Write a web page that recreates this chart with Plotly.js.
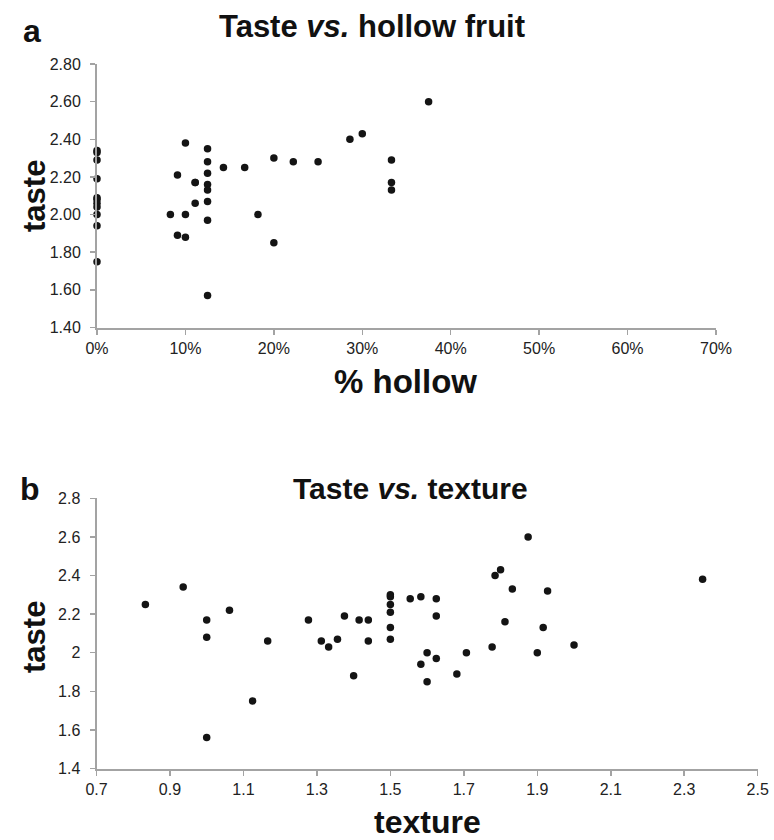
<!DOCTYPE html>
<html>
<head>
<meta charset="utf-8">
<script src="https://cdn.plot.ly/plotly-3.0.1.min.js"></script>
<style>html,body{margin:0;padding:0;background:#fff;}#chart{width:774px;height:840px;}</style>
</head>
<body>
<div id="chart"></div>
<script>
// Panel a: % hollow vs taste
const hollowX = [0,0,0,0,0,0,0,0,0,0,0,
  0.083,0.091,0.091,0.10,0.10,0.10,0.111,0.111,0.111,
  0.125,0.125,0.125,0.125,0.125,0.125,0.125,0.125,
  0.143,0.167,0.182,0.20,0.20,0.222,0.25,0.286,0.30,0.333,0.333,0.333,0.375];
const hollowTaste = [2.34,2.33,2.29,2.19,2.09,2.08,2.06,2.04,2.00,1.94,1.75,
  2.00,2.21,1.89,2.38,2.00,1.88,2.17,2.17,2.06,
  2.35,2.28,2.22,2.16,2.13,2.07,1.97,1.57,
  2.25,2.25,2.00,2.30,1.85,2.28,2.28,2.40,2.43,2.29,2.17,2.13,2.60];

// Panel b: texture vs taste
const textureX = [0.833,0.936,1.0,1.0,1.0,1.062,1.125,1.166,1.277,1.312,1.332,1.356,1.375,1.40,1.415,1.44,1.44,
  1.5,1.5,1.5,1.5,1.5,1.5,1.554,1.583,1.583,1.625,1.625,1.625,1.6,1.6,1.681,1.707,1.777,1.785,1.80,1.812,1.832,1.875,1.90,1.916,1.928,2.0,2.35];
const textureTaste = [2.25,2.34,2.17,2.08,1.56,2.22,1.75,2.06,2.17,2.06,2.03,2.07,2.19,1.88,2.17,2.17,2.06,
  2.30,2.29,2.25,2.21,2.13,2.07,2.28,2.29,1.94,2.28,2.19,1.97,2.00,1.85,1.89,2.00,2.03,2.40,2.43,2.16,2.33,2.60,2.00,2.13,2.32,2.04,2.38];

const xTicksA = [0,0.1,0.2,0.3,0.4,0.5,0.6,0.7];
const yTicksA = [1.4,1.6,1.8,2.0,2.2,2.4,2.6,2.8];
const xTicksB = [0.7,0.9,1.1,1.3,1.5,1.7,1.9,2.1,2.3,2.5];
const yTicksB = [1.4,1.6,1.8,2,2.2,2.4,2.6,2.8];

const W = 774, H = 840;
const px = v => v / W;
const py = v => 1 - v / H;
const FONT = 'Liberation Sans, Arial, sans-serif';

const markerStyle = {size: 7.5, color: '#141414'};
const traces = [
  {x: hollowX, y: hollowTaste, xaxis: 'x', yaxis: 'y', type: 'scatter', mode: 'markers', marker: markerStyle, cliponaxis: false, hoverinfo: 'x+y'},
  {x: textureX, y: textureTaste, xaxis: 'x2', yaxis: 'y2', type: 'scatter', mode: 'markers', marker: markerStyle, cliponaxis: false, hoverinfo: 'x+y'}
];

const axisCommon = {
  showline: true, linecolor: '#a3a3a3', linewidth: 2,
  ticks: 'outside', ticklen: 5, tickwidth: 1.5, tickcolor: '#a3a3a3',
  showgrid: false, zeroline: false,
  tickfont: {family: FONT, size: 16, color: '#222'}
};

function ann(text, x, y, size, extra) {
  return Object.assign({text: text, x: px(x), y: py(y), xref: 'paper', yref: 'paper', xanchor: 'center', yanchor: 'middle',
    showarrow: false, font: {family: FONT, size: size, color: '#111'}}, extra || {});
}

const layout = {
  width: W, height: H,
  margin: {l: 0, r: 0, t: 0, b: 0},
  paper_bgcolor: '#fff', plot_bgcolor: '#fff',
  showlegend: false,
  xaxis: Object.assign({}, axisCommon, {domain: [px(97), px(716)], range: [0, 0.7], tickvals: xTicksA, tickformat: '.0%', anchor: 'y', ticklabelstandoff: 0}),
  yaxis: Object.assign({}, axisCommon, {domain: [py(327.5), py(64)], range: [1.4, 2.8], tickvals: yTicksA, tickformat: '.2f', anchor: 'x', ticklabelstandoff: 6}),
  xaxis2: Object.assign({}, axisCommon, {domain: [px(96.5), px(757.7)], range: [0.7, 2.5], tickvals: xTicksB, tickformat: '.1f', anchor: 'y2', ticklabelstandoff: 0}),
  yaxis2: Object.assign({}, axisCommon, {domain: [py(768.5), py(498.3)], range: [1.4, 2.8], tickvals: yTicksB, ticktext: yTicksB.map(String), tickmode: 'array', anchor: 'x2', ticklabelstandoff: 6}),
  annotations: [
    ann('<b>Taste <i>vs.</i> hollow fruit</b>', 372, 27, 31),
    ann('<b>Taste <i>vs.</i> texture</b>', 410, 488, 30),
    ann('<b>a</b>', 32, 31, 32),
    ann('<b>b</b>', 30, 489, 32),
    ann('<b>% hollow</b>', 405, 382, 33),
    ann('<b>texture</b>', 428, 822, 32),
    ann('<b>taste</b>', 34, 196, 31, {textangle: -90}),
    ann('<b>taste</b>', 34, 637, 31, {textangle: -90})
  ]
};

Plotly.newPlot('chart', traces, layout, {displayModeBar: false, staticPlot: true});
</script>
</body>
</html>
